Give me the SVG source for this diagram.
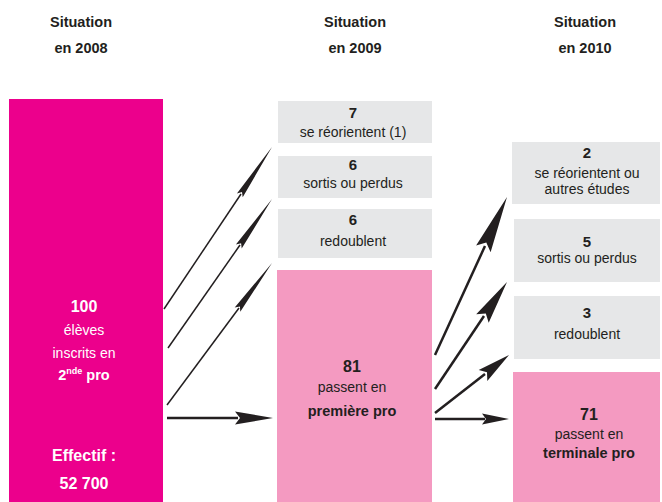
<svg xmlns="http://www.w3.org/2000/svg" width="662" height="502" viewBox="0 0 662 502">
<style>
text{font-family:"Liberation Sans",Arial,sans-serif;text-anchor:middle;fill:#231f20}
.h{font-weight:bold;font-size:14.5px}
.n{font-weight:bold;font-size:15px}
.t{font-size:14px}
.b{font-weight:bold;font-size:14.5px}
.w{fill:#ffffff}
.gray{fill:#e6e7e8}
.pink{fill:#f49ac1}
.mag{fill:#ec008c}
.ln{stroke:#231f20;fill:none}
.hd{fill:#231f20;stroke:none}
</style>
<g id="headers">
<text class="h" x="81" y="27">Situation</text>
<text class="h" x="81" y="53">en 2008</text>
<text class="h" x="355" y="27">Situation</text>
<text class="h" x="355" y="53">en 2009</text>
<text class="h" x="585" y="27">Situation</text>
<text class="h" x="585" y="53">en 2010</text>
</g>
<g id="n2008">
<rect class="mag" x="9" y="99" width="154" height="403"/>
<text class="w" x="84" y="312" style="font-weight:bold;font-size:16px">100</text>
<text class="t w" x="84" y="335">élèves</text>
<text class="t w" x="84" y="358">inscrits en</text>
<text class="b w" x="84" y="380">2<tspan dy="-6" style="font-size:9px">nde</tspan><tspan dy="6"> pro</tspan></text>
<text class="w" x="84" y="461" style="font-weight:bold;font-size:16px">Effectif :</text>
<text class="w" x="84" y="489" style="font-weight:bold;font-size:16px">52 700</text>
</g>
<g id="reorient2009">
<rect class="gray" x="278" y="101" width="154" height="42"/>
<text class="n" x="353" y="118">7</text>
<text class="t" x="353" y="137">se réorientent (1)</text>
</g>
<g id="sortis2009">
<rect class="gray" x="278" y="156" width="154" height="42"/>
<text class="n" x="353" y="170">6</text>
<text class="t" x="353" y="188">sortis ou perdus</text>
</g>
<g id="redoub2009">
<rect class="gray" x="278" y="209" width="154" height="49"/>
<text class="n" x="353" y="225">6</text>
<text class="t" x="353" y="246">redoublent</text>
</g>
<g id="premiere">
<rect class="pink" x="277" y="270" width="155" height="232"/>
<text x="352" y="372" style="font-weight:bold;font-size:16px">81</text>
<text class="t" x="352" y="392">passent en</text>
<text class="b" x="352" y="416">première pro</text>
</g>
<g id="reorient2010">
<rect class="gray" x="512" y="142" width="148" height="62"/>
<text class="n" x="587" y="158">2</text>
<text class="t" x="587" y="178">se réorientent ou</text>
<text class="t" x="587" y="194">autres études</text>
</g>
<g id="sortis2010">
<rect class="gray" x="514" y="219" width="146" height="63"/>
<text class="n" x="587" y="247">5</text>
<text class="t" x="587" y="263">sortis ou perdus</text>
</g>
<g id="redoub2010">
<rect class="gray" x="514" y="296" width="146" height="63"/>
<text class="n" x="587" y="318">3</text>
<text class="t" x="587" y="339">redoublent</text>
</g>
<g id="terminale">
<rect class="pink" x="513" y="372" width="147" height="130"/>
<text x="589" y="420" style="font-weight:bold;font-size:16px">71</text>
<text class="t" x="589" y="439">passent en</text>
<text class="b" x="589" y="458">terminale pro</text>
</g>
<g id="connectors">
<line class="ln" stroke-width="1.5" x1="164" y1="309" x2="241" y2="194"/>
<polygon class="hd" points="272,147 242.7,197.2 242,191.9 236.9,193.4"/>
<line class="ln" stroke-width="1.5" x1="168" y1="348" x2="240" y2="245"/>
<polygon class="hd" points="272,199 241.7,248.6 241.1,243.3 235.9,244.6"/>
<line class="ln" stroke-width="1.5" x1="167" y1="405" x2="239" y2="308"/>
<polygon class="hd" points="272,263 240.3,311.7 239.9,306.4 234.7,307.5"/>
<line class="ln" stroke-width="2.5" x1="167" y1="418" x2="238" y2="418"/>
<polygon class="hd" points="273,418 235,424.5 240,418 235,411.5"/>
<line class="ln" stroke-width="2.5" x1="435" y1="355" x2="485" y2="246"/>
<polygon class="hd" points="507,197 490.6,252.2 486.3,242.5 476.1,245.6"/>
<line class="ln" stroke-width="2.5" x1="435" y1="389" x2="484" y2="316"/>
<polygon class="hd" points="507,282 488.7,322.7 485.8,313.5 476.2,314.3"/>
<line class="ln" stroke-width="2.5" x1="435" y1="413" x2="485" y2="374"/>
<polygon class="hd" points="509,355 487.3,380.9 487,372.3 478.7,369.9"/>
<line class="ln" stroke-width="2.5" x1="435" y1="419" x2="485" y2="419"/>
<polygon class="hd" points="509,419 482,424.5 486,419 482,413.5"/>
</g>
</svg>
